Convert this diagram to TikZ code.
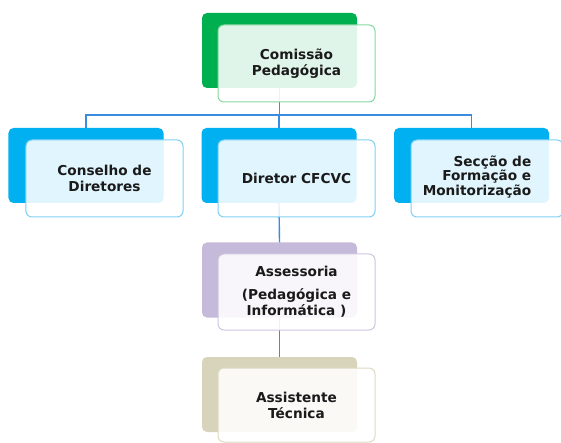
\documentclass[tikz,border=0pt]{standalone}
\usepackage{fontspec}
\setmainfont{DejaVu Sans}
\begin{document}
\begin{tikzpicture}[x=1bp,y=-1bp,
  back/.style={draw=none,fill=#1,rounded corners=5bp,minimum width=155bp,minimum height=75bp,inner sep=0pt},
  front/.style={draw=#1,line width=1bp,fill=white,fill opacity=0.88,text opacity=1,rounded corners=6bp,
    minimum width=157bp,minimum height=77bp,inner sep=0pt,align=center,text=txt,
    font=\fontsize{13.7}{16}\selectfont\bfseries},
  conn/.style={draw=linec,line width=1.4bp}]
\definecolor{gr}{HTML}{00B050}
\definecolor{grl}{HTML}{86D8A2}
\definecolor{bl}{HTML}{00B0F0}
\definecolor{bll}{HTML}{80D0F3}
\definecolor{pu}{HTML}{C6BADA}
\definecolor{pul}{HTML}{CFC5E1}
\definecolor{tn}{HTML}{D8D3BB}
\definecolor{tnl}{HTML}{DEDAC4}
\definecolor{linec}{HTML}{3A8CE0}
\definecolor{txt}{HTML}{1A1A1A}
\useasboundingbox (0,0) rectangle (561,443);
\fill[white] (0,0) rectangle (561,443);
% back rectangles
\node[back=gr] (cpb) at (279.5,50.5) {};
\node[back=bl] (cdb) at (86,165.5) {};
\node[back=bl] (dib) at (279,165.5) {};
\node[back=bl] (sfb) at (471.5,165.5) {};
\node[back=pu] (asb) at (279.5,280) {};
\node[back=tn] (atb) at (279.5,394.5) {};
% connectors
\coordinate (bus) at (0,115);
\draw[conn] (cpb.south) -- (cpb.south |- bus);
\draw[conn] (cdb.north) -- (cdb.north |- bus) -- (sfb.north |- bus) -- (sfb.north);
\draw[conn] (dib.north |- bus) -- (dib.north);
\draw[conn] (dib.south) -- (asb.north);
\draw[conn] (asb.south) -- (atb.north);
% front rectangles
\node[front=grl] (cp) at (296.5,63.5) {Comissão\\Pedagógica};
\node[front=bll] (cd) at (104.5,178.5) {Conselho de\\Diretores};
\node[front=bll] (di) at (296.5,178.5) {Diretor CFCVC};
\node[front=bll,minimum width=152bp] (sf) at (487,178.5) {};
\node[align=right,text=txt,font=\fontsize{13.7}{15}\selectfont\bfseries,inner sep=0pt] (sft) at (477,177) {Secção de\\Formação e\\Monitorização};
\node[front=pul,minimum height=76bp] (as) at (296.5,292) {Assessoria\\[7bp](Pedagógica e\\Informática )};
\node[front=tnl,minimum height=74bp] (at) at (296.5,405) {Assistente\\Técnica};
\end{tikzpicture}
\end{document}
